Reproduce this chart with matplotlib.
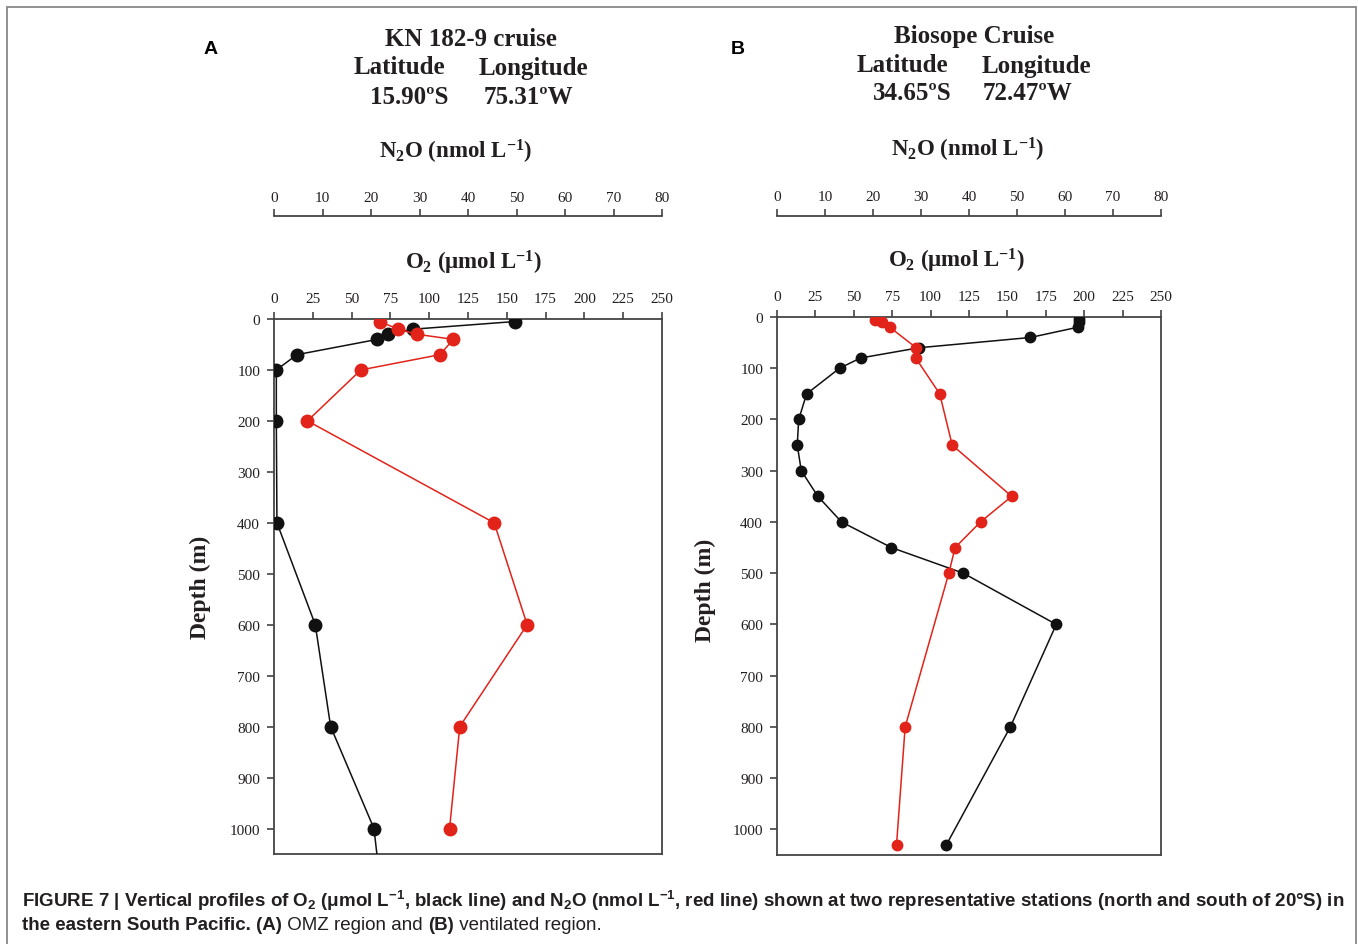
import matplotlib
matplotlib.use("Agg")
import matplotlib.pyplot as plt
from matplotlib.patches import Rectangle

plt.rcParams['mathtext.default'] = 'regular'

# station A (KN 182-9), depth in m
depth_o2_a = [5, 20, 30, 40, 70, 100, 200, 400, 600, 800, 1000, 1200]
o2_a = [155, 89.6, 73.5, 66.6, 14.8, 1.5, 1.5, 1.9, 26.6, 36.5, 64.4, 72]
depth_n2o_a = [5, 20, 30, 40, 70, 100, 200, 400, 600, 800, 1000]
n2o_a = [21.8, 25.6, 29.5, 37.0, 34.2, 17.9, 6.9, 45.4, 52.2, 38.3, 36.2]

# station B (Biosope)
depth_o2_b = [3, 10, 20, 40, 60, 80, 100, 150, 200, 250, 300, 350, 400, 450, 500, 600, 800, 1030]
o2_b = [196.9, 196.5, 195.8, 164.9, 92.5, 54.4, 40.7, 19.3, 14.1, 13.2, 15.8, 26.6, 42.0, 74.5,
        121.3, 181.8, 151.9, 110.3]
depth_n2o_b = [5, 10, 20, 60, 80, 150, 250, 350, 400, 450, 500, 800, 1030]
n2o_b = [20.5, 21.9, 23.5, 29.0, 28.9, 33.9, 36.5, 48.9, 42.4, 37.1, 35.8, 26.7, 24.9]

o2_ticks = [0, 25, 50, 75, 100, 125, 150, 175, 200, 225, 250]
n2o_ticks = [0, 10, 20, 30, 40, 50, 60, 70, 80]
depth_ticks = [0, 100, 200, 300, 400, 500, 600, 700, 800, 900, 1000]

W, H = 1358, 945
SERIF = 'Liberation Serif'
DARK = '#231f20'
RED = '#e2231a'

fig = plt.figure(figsize=(W / 100, H / 100), dpi=100)


def fx(px):
    return px / W


def fy(py):
    return 1 - py / H


def panel(rect_px, d_o2, o2, d_n2o, n2o, msize, outward):
    l, t, r, b = rect_px
    ax = fig.add_axes([fx(l), fy(b), fx(r - l), (b - t) / H])
    ax.plot(o2, d_o2, color='#111111', lw=1.1, marker='o', ms=msize, zorder=3)
    ax.set_xlim(0, 250)
    ax.set_ylim(1050, 0)
    ax.set_xticks(o2_ticks)
    ax.set_yticks(depth_ticks)

    ax2 = ax.twiny()
    ax2.plot(n2o, d_n2o, color=RED, lw=1.1, marker='o', ms=msize, zorder=4)
    ax2.set_xlim(0, 80)
    ax2.set_xticks(n2o_ticks)
    ax2.spines['top'].set_position(('outward', outward))
    for k in ['left', 'right', 'bottom']:
        ax2.spines[k].set_visible(False)
    ax2.spines['top'].set_color('#444444')
    ax2.spines['top'].set_linewidth(1.3)
    ax2.tick_params(direction='out', length=5, width=1.1, color='#333333',
                    labelsize=11, labelcolor=DARK, pad=4)
    for lab in ax2.get_xticklabels():
        lab.set_fontfamily(SERIF)

    # twiny moves the O2 ticks to the bottom, put them back on top
    ax.xaxis.tick_top()
    ax.tick_params(direction='out', length=5, width=1.1, color='#333333',
                   labelsize=11, labelcolor=DARK, pad=5)
    for lab in ax.get_xticklabels() + ax.get_yticklabels():
        lab.set_fontfamily(SERIF)
    for s in ax.spines.values():
        s.set_color('#444444')
        s.set_linewidth(1.3)
    return ax


panel((274, 320, 662, 855), depth_o2_a, o2_a, depth_n2o_a, n2o_a, 9, 74)
panel((777, 318, 1161, 856), depth_o2_b, o2_b, depth_n2o_b, n2o_b, 7.5, 73)


def txt(x, y, s, size, **kw):
    kw.setdefault('family', SERIF)
    kw.setdefault('weight', 'bold')
    kw.setdefault('color', DARK)
    return fig.text(fx(x), fy(y), s, fontsize=size, ha=kw.pop('ha', 'center'),
                    va=kw.pop('va', 'center'), **kw)


# panel headers
txt(211, 50, 'A', 14, family='Liberation Sans', color='black')
txt(738, 50, 'B', 14, family='Liberation Sans', color='black')

txt(471, 39, 'KN 182-9 cruise', 18)
txt(399, 68, 'Latitude', 18)
txt(533, 68, 'Longitude', 18)
txt(409, 97, '15.90ºS', 18)
txt(528, 97, '75.31ºW', 18)

txt(974, 37, 'Biosope Cruise', 18)
txt(902, 66, 'Latitude', 18)
txt(1036, 66, 'Longitude', 18)
txt(912, 94, '34.65ºS', 18)
txt(1027, 94, '72.47ºW', 18)

for cx, cy in [(456, 152), (968, 150)]:
    txt(cx, cy, r'$\mathregular{N_2O}$ (nmol L$^{-1}$)', 16.5)
for cx, cy in [(474, 263), (957, 261)]:
    txt(cx, cy, r'O$_2$ ($\mu$mol L$^{-1}$)', 16.5)

txt(200, 587, 'Depth (m)', 17, rotation=90)
txt(705, 590, 'Depth (m)', 17, rotation=90)

# figure frame
fig.patches.append(Rectangle((fx(7), fy(960)), fx(1356 - 7), (960 - 8) / H,
                             transform=fig.transFigure, fill=False,
                             edgecolor='#888888', lw=1.3, clip_on=False))

# caption
CAP = 'Liberation Sans'
renderer = fig.canvas.get_renderer()
line1 = (r'FIGURE 7 | Vertical profiles of O$_2$ ($\mu$mol L$^{-1}$, black line) and '
         r'N$_2$O (nmol L$^{-1}$, red line) shown at two representative stations '
         r'(north and south of 20$\degree$S) in')
cap_size = 12.5
probe = fig.text(fx(22), fy(901), line1, fontsize=cap_size, family=CAP, weight='bold',
                 color=DARK, va='center')
for _ in range(4):
    wpx = probe.get_window_extent(renderer).width
    cap_size = cap_size * 1320 / wpx
    probe.set_fontsize(cap_size)

pieces = [('the eastern South Pacific. (A)', 'bold'), (' OMZ region and ', 'normal'),
          ('(B)', 'bold'), (' ventilated region.', 'normal')]
x0 = 22
for s, wgt in pieces:
    t = fig.text(fx(x0), fy(926), s, fontsize=cap_size, family=CAP, weight=wgt,
                 color=DARK, va='center')
    bb = t.get_window_extent(renderer)
    x0 = bb.x1

fig.savefig('out.png', dpi=100)
